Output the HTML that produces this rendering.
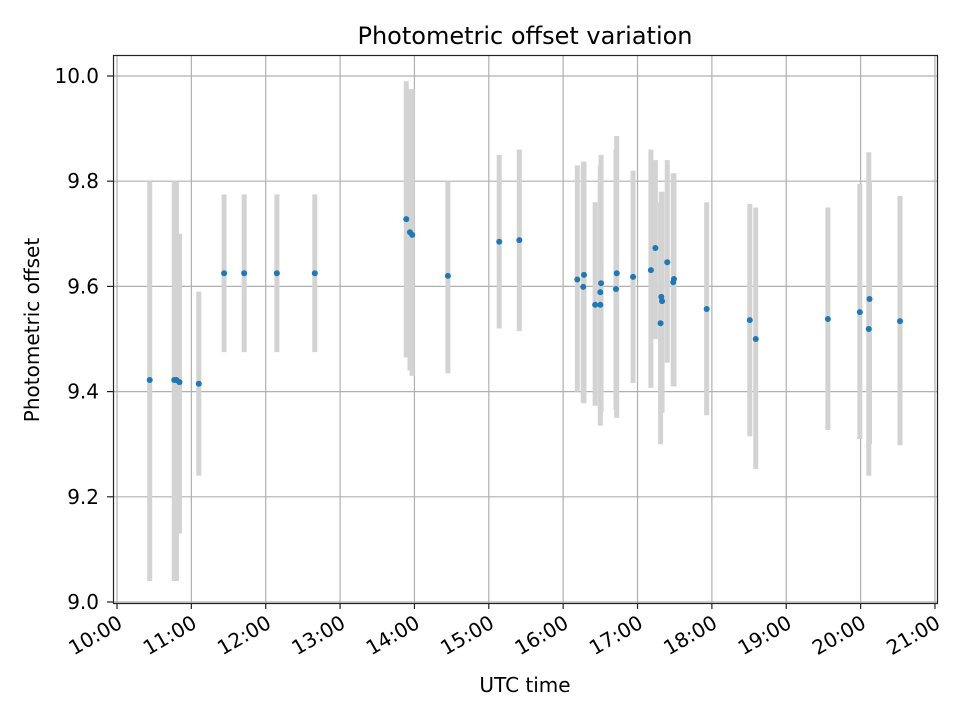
<!DOCTYPE html>
<html><head><meta charset="utf-8">
<style>
body{margin:0;background:#fff;}
svg{display:block;font-family:"DejaVu Sans","Liberation Sans",sans-serif;}
</style></head>
<body>
<svg id="chart" width="960" height="720" xmlns="http://www.w3.org/2000/svg">
<rect width="960" height="720" fill="#fff"/>
<g id="grid"></g>
<g id="bars"></g>
<g id="points"></g>
<rect x="113.5" y="55.5" width="824" height="548" fill="none" stroke="#222" stroke-width="1.2"/>
<g id="axes"></g>
<text x="525" y="44" font-size="24" text-anchor="middle">Photometric offset variation</text>
<text x="525" y="692" font-size="20" text-anchor="middle">UTC time</text>
<text transform="translate(39,330) rotate(-90)" font-size="20" text-anchor="middle">Photometric offset</text>
</svg>
<script>
const times = [10.44,10.77,10.80,10.84,11.10,11.44,11.71,12.15,12.66,13.89,13.94,13.97,14.45,15.14,15.41,16.19,16.28,16.27,16.43,16.50,16.51,16.50,16.72,16.71,16.94,17.18,17.24,17.31,17.32,17.33,17.40,17.49,17.48,17.93,18.51,18.59,19.56,19.99,20.11,20.12,20.53];
const values = [9.422,9.422,9.422,9.418,9.415,9.625,9.625,9.625,9.625,9.728,9.703,9.698,9.620,9.685,9.688,9.613,9.622,9.599,9.565,9.565,9.606,9.589,9.625,9.595,9.618,9.631,9.673,9.530,9.580,9.572,9.646,9.614,9.608,9.557,9.536,9.500,9.538,9.551,9.519,9.576,9.534];
const lows = [9.04,9.04,9.04,9.13,9.24,9.475,9.475,9.475,9.475,9.465,9.44,9.43,9.435,9.52,9.515,9.40,9.378,9.378,9.373,9.335,9.36,9.37,9.35,9.365,9.416,9.407,9.50,9.30,9.36,9.36,9.455,9.41,9.41,9.355,9.315,9.253,9.327,9.31,9.24,9.30,9.298];
const highs = [9.80,9.80,9.80,9.70,9.59,9.775,9.775,9.775,9.775,9.99,9.975,9.975,9.80,9.85,9.86,9.83,9.837,9.837,9.76,9.83,9.85,9.80,9.886,9.86,9.82,9.86,9.84,9.76,9.78,9.78,9.84,9.815,9.815,9.76,9.757,9.75,9.75,9.795,9.855,9.80,9.772];
const xTicks = [10,11,12,13,14,15,16,17,18,19,20,21];
const yTicks = [9.0,9.2,9.4,9.6,9.8,10.0];

const NS="http://www.w3.org/2000/svg";
const xs = h => 117 + (h-10)*74.36;
const ys = v => 602 - (v-9)*526;
function mk(tag, attrs, parent){const e=document.createElementNS(NS,tag);for(const k in attrs)e.setAttribute(k,attrs[k]);parent.appendChild(e);return e;}
const grid=document.getElementById('grid'), axes=document.getElementById('axes');
xTicks.forEach(t=>{
  const x=xs(t);
  const g=mk('line',{x1:x,x2:x,y1:56,y2:603,stroke:'#b0b0b0','stroke-width':1.2},grid);
  
  
  const tk=mk('line',{x1:x,x2:x,y1:603,y2:609,stroke:'#222','stroke-width':1.2},axes);
  
  
  const hh=String(t).padStart(2,'0')+':00';
  const lb=mk('text',{transform:`translate(${x+4},${622}) rotate(-30)`,'font-size':20,'text-anchor':'end','dominant-baseline':'middle'},axes);
  lb.textContent=hh;
  
  
});
yTicks.forEach(t=>{
  const y=ys(t);
  const g=mk('line',{x1:113,x2:937,y1:y,y2:y,stroke:'#b0b0b0','stroke-width':1.2},grid);
  
  
  const tk=mk('line',{x1:107,x2:113,y1:y,y2:y,stroke:'#222','stroke-width':1.2},axes);
  
  
  const lb=mk('text',{x:99,y:y+7,'font-size':20,'text-anchor':'end'},axes);
  lb.textContent=t.toFixed(1);
  
  
});
const bars=document.getElementById('bars'), pts=document.getElementById('points');
times.forEach((t,i)=>{
  const x=xs(t);
  const b=mk('line',{x1:x,x2:x,y1:ys(lows[i]),y2:ys(highs[i]),stroke:'#d3d3d3','stroke-width':5},bars);
  
  
});
times.forEach((t,i)=>{
  const c=mk('circle',{cx:xs(t),cy:ys(values[i]),r:3,fill:'#1f77b4'},pts);
  
  
});
</script>
</body></html>
